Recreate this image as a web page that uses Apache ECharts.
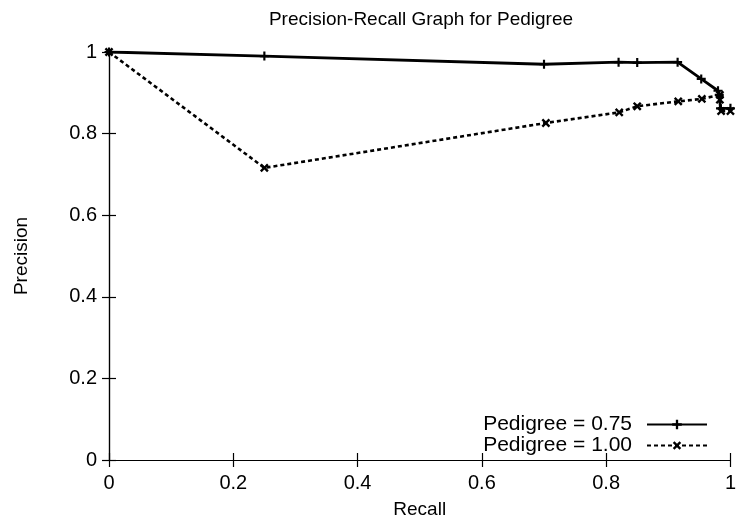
<!DOCTYPE html>
<html>
<head>
<meta charset="utf-8">
<script src="https://cdn.jsdelivr.net/npm/echarts@6/dist/echarts.min.js"></script>
<style>
html,body{margin:0;padding:0;background:#fff}
#chart{width:739px;height:524px}
</style>
</head>
<body>
<div id="chart"></div>
<script>
// Pedigree = 0.75 (solid line, + markers)
const recall075 = [0, 0.25, 0.70, 0.82, 0.85, 0.915, 0.953, 0.98, 0.982, 0.984, 1.0]
const prec075 = [1, 0.99, 0.97, 0.975, 0.974, 0.975, 0.934, 0.905, 0.895, 0.862, 0.862]
// Pedigree = 1.00 (dashed line, x markers)
const recall100 = [0, 0.25, 0.703, 0.821, 0.85, 0.916, 0.954, 0.983, 0.983, 0.985, 1.0]
const prec100 = [1, 0.716, 0.826, 0.852, 0.867, 0.879, 0.885, 0.895, 0.883, 0.855, 0.855]
const seriesNames = ['Pedigree = 0.75', 'Pedigree = 1.00']

const font = 'Liberation Sans, Arial, sans-serif'
const plus = 'path://M3.8,0H6.2V3.8H10V6.2H6.2V10H3.8V6.2H0V3.8H3.8Z'

function pairs(xs, ys){
  return xs.map((x, i) => [x, ys[i]])
}

const myChart = echarts.init(document.querySelector('#chart'))
const axisCommon = {
  type: 'value', min: 0, max: 1, interval: 0.2,
  axisLine: {show: true, lineStyle: {color: '#000', width: 1.2}},
  axisTick: {show: true, inside: true, length: 7, lineStyle: {color: '#000', width: 1.2}},
  splitLine: {show: false}
}
const option = {
  animation: false,
  backgroundColor: '#fff',
  title: {
    text: 'Precision-Recall Graph for Pedigree',
    left: 416,
    textAlign: 'center',
    top: 5,
    textStyle: {fontFamily: font, fontSize: 19, fontWeight: 'normal', color: '#000'}
  },
  grid: {left: 109, right: 6, top: 52, bottom: 62},
  legend: {
    orient: 'vertical',
    right: 26,
    bottom: 63,
    align: 'right',
    itemWidth: 60,
    itemHeight: 12,
    itemGap: 0,
    textStyle: {fontFamily: font, fontSize: 21, color: '#000', padding: [0, 10, 0, 0]},
    data: seriesNames
  },
  xAxis: [
    Object.assign({}, axisCommon, {
      name: 'Recall', nameLocation: 'middle', nameGap: 40,
      nameTextStyle: {fontFamily: font, fontSize: 19, color: '#000'},
      axisLabel: {fontFamily: font, fontSize: 20, color: '#000', margin: 13}
    }),
    Object.assign({}, axisCommon, {position: 'top', axisLabel: {show: false}})
  ],
  yAxis: [
    Object.assign({}, axisCommon, {
      name: 'Precision', nameLocation: 'middle', nameGap: 78,
      nameTextStyle: {fontFamily: font, fontSize: 19, color: '#000'},
      axisLabel: {fontFamily: font, fontSize: 20, color: '#000', margin: 12}
    }),
    Object.assign({}, axisCommon, {position: 'right', axisLabel: {show: false}})
  ],
  series: [
    {
      name: seriesNames[0],
      type: 'line',
      data: pairs(recall075, prec075),
      symbol: plus,
      symbolSize: 9,
      showAllSymbol: true,
      itemStyle: {color: '#000'},
      lineStyle: {color: '#000', width: 2.8, type: 'solid'}
    },
    {
      name: seriesNames[1],
      type: 'line',
      data: pairs(recall100, prec100),
      symbol: plus,
      symbolSize: 10,
      symbolRotate: 45,
      showAllSymbol: true,
      itemStyle: {color: '#000'},
      lineStyle: {color: '#000', width: 2.6, type: [4, 3]}
    }
  ]
}
myChart.setOption(option)
</script>
</body>
</html>
